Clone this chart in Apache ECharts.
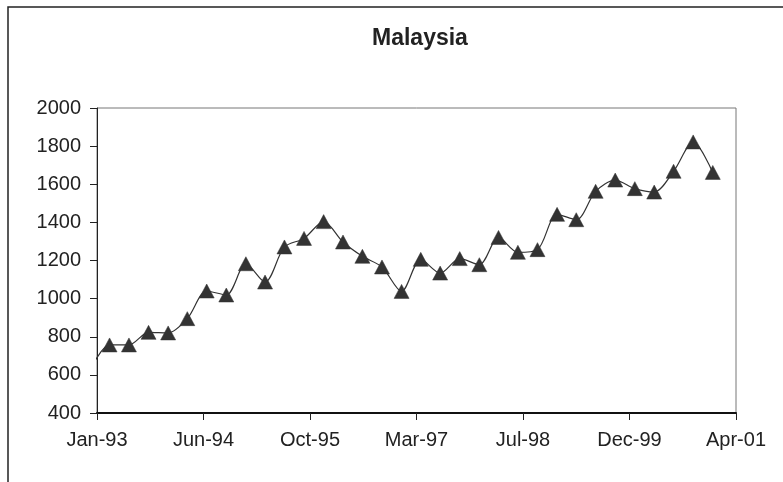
<!DOCTYPE html>
<html>
<head>
<meta charset="utf-8">
<script src="https://cdn.jsdelivr.net/npm/echarts@6/dist/echarts.min.js"></script>
<style>
html,body{margin:0;padding:0;background:#fff;}
#chart{width:783px;height:482px;}
</style>
</head>
<body>
<div id="chart"></div>
<script>
// Quarter-end dates (first point lies just before the axis start and is clipped)
const dates = [
  '1992-12-31',
  '1993-03-31','1993-06-30','1993-09-30','1993-12-31',
  '1994-03-31','1994-06-30','1994-09-30','1994-12-31',
  '1995-03-31','1995-06-30','1995-09-30','1995-12-31',
  '1996-03-31','1996-06-30','1996-09-30','1996-12-31',
  '1997-03-31','1997-06-30','1997-09-30','1997-12-31',
  '1998-03-31','1998-06-30','1998-09-30','1998-12-31',
  '1999-03-31','1999-06-30','1999-09-30','1999-12-31',
  '2000-03-31','2000-06-30','2000-09-30','2000-12-31'
];
const values = [
  630,
  757, 757, 823, 820,
  895, 1040, 1019, 1183,
  1087, 1271, 1316, 1404,
  1297, 1222, 1166, 1038,
  1206, 1134, 1210, 1178,
  1321, 1243, 1257, 1442,
  1414, 1563, 1622, 1577,
  1559, 1668, 1822, 1662
];
const xTickLabels = ['Jan-93','Jun-94','Oct-95','Mar-97','Jul-98','Dec-99','Apr-01'];
const yTicks = [400, 600, 800, 1000, 1200, 1400, 1600, 1800, 2000];
const chartTitle = 'Malaysia';

// Spreadsheet-style day serial numbers for the date axis
const EPOCH = Date.UTC(1899, 11, 30);
function serial(s) {
  const p = s.split('-').map(Number);
  return Math.round((Date.UTC(p[0], p[1] - 1, p[2]) - EPOCH) / 86400000);
}
const X_MIN = 34000, X_STEP = 500;
const X_MAX = X_MIN + X_STEP * (xTickLabels.length - 1);

const seriesData = dates.map((d, i) => [serial(d), values[i]]);

const font = "'Liberation Sans', Arial, sans-serif";
const chart = echarts.init(document.getElementById('chart'), null, {renderer: 'canvas'});
chart.setOption({
  animation: false,
  backgroundColor: '#fff',
  title: {
    text: chartTitle,
    left: 367,
    top: 22,
    textStyle: {fontFamily: font, fontSize: 23, fontWeight: 'bold', color: '#222'}
  },
  graphic: [{
    type: 'rect',
    shape: {x: 8, y: 7, width: 900, height: 600},
    style: {fill: 'none', stroke: '#222', lineWidth: 1.5},
    silent: true,
    z: -1
  }],
  grid: {
    left: 97, right: 47, top: 108, bottom: 69,
    show: true, borderColor: '#777', borderWidth: 1, backgroundColor: 'transparent'
  },
  xAxis: {
    type: 'value',
    min: X_MIN, max: X_MAX, interval: X_STEP,
    axisLine: {show: true, onZero: false, lineStyle: {color: '#111', width: 2}},
    axisTick: {show: true, inside: false, length: 7, lineStyle: {color: '#222', width: 1}},
    splitLine: {show: false},
    axisLabel: {
      margin: 17,
      fontFamily: font, fontSize: 20, color: '#222',
      formatter: v => xTickLabels[Math.round((v - X_MIN) / X_STEP)] || ''
    }
  },
  yAxis: {
    type: 'value',
    min: yTicks[0], max: yTicks[yTicks.length - 1], interval: yTicks[1] - yTicks[0],
    axisLine: {show: true, onZero: false, lineStyle: {color: '#222', width: 1}},
    axisTick: {show: true, inside: false, length: 7, lineStyle: {color: '#222', width: 1}},
    splitLine: {show: false},
    axisLabel: {margin: 16, fontFamily: font, fontSize: 20, color: '#222', formatter: v => String(v)}
  },
  series: [{
    type: 'line',
    data: seriesData,
    clip: true,
    smooth: 0.3,
    symbol: 'triangle',
    symbolSize: [15, 14],
    showAllSymbol: true,
    lineStyle: {color: '#333', width: 1.2},
    itemStyle: {color: '#333', borderColor: '#333', borderWidth: 0.5}
  }]
});
</script>
</body>
</html>
